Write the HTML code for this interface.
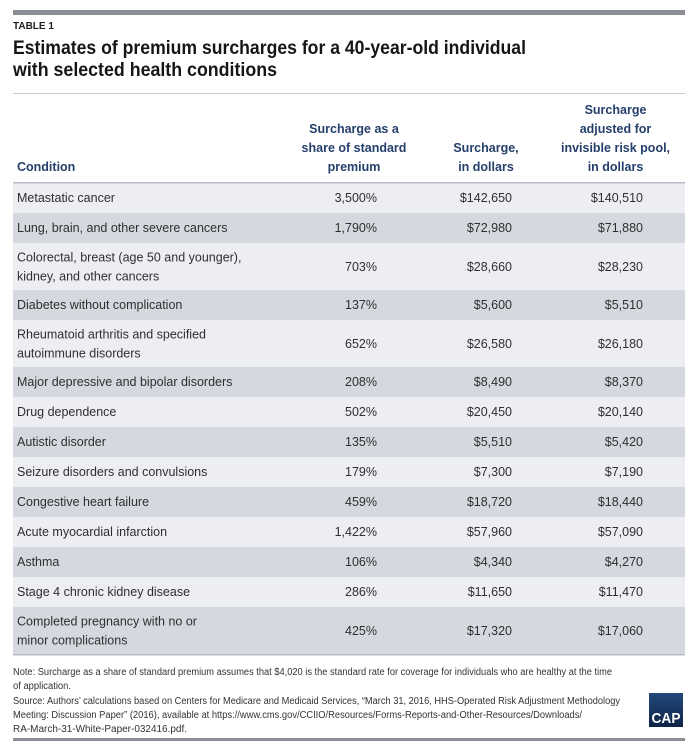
<!DOCTYPE html>
<html>
<head>
<meta charset="utf-8">
<style>
html,body{margin:0;padding:0;background:#fff;}
svg{display:block;}
.b{font-family:"Liberation Sans",Arial,sans-serif;font-size:12.5px;fill:#2f2f2f;}
.h{font-family:"Liberation Sans",Arial,sans-serif;font-size:12.5px;font-weight:bold;fill:#243f6b;}
.f{font-family:"Liberation Sans",Arial,sans-serif;font-size:10px;fill:#333;}
</style>
</head>
<body>
<svg width="693" height="747" viewBox="0 0 693 747" xmlns="http://www.w3.org/2000/svg">
<rect x="0" y="0" width="693" height="747" fill="#fff"/>
<!-- top bar -->
<rect x="13" y="10" width="672" height="5" fill="#8b8e95"/>
<text x="13" y="29" font-family="Liberation Sans, Arial, sans-serif" font-size="10" font-weight="bold" fill="#222">TABLE 1</text>
<text x="13" y="54" font-family="Liberation Sans, Arial, sans-serif" font-size="19" font-weight="bold" fill="#161616" textLength="513" lengthAdjust="spacingAndGlyphs">Estimates of premium surcharges for a 40-year-old individual</text>
<text x="13" y="76" font-family="Liberation Sans, Arial, sans-serif" font-size="19" font-weight="bold" fill="#161616" textLength="264" lengthAdjust="spacingAndGlyphs">with selected health conditions</text>
<rect x="13" y="93" width="672" height="1" fill="#c5c9d1"/>

<!-- header -->
<text class="h" x="17" y="171">Condition</text>
<text class="h" x="354" y="133" text-anchor="middle">Surcharge as a</text>
<text class="h" x="354" y="152" text-anchor="middle">share of standard</text>
<text class="h" x="354" y="171" text-anchor="middle">premium</text>
<text class="h" x="486" y="152" text-anchor="middle">Surcharge,</text>
<text class="h" x="486" y="171" text-anchor="middle">in dollars</text>
<text class="h" x="615.5" y="114" text-anchor="middle">Surcharge</text>
<text class="h" x="615.5" y="133" text-anchor="middle">adjusted for</text>
<text class="h" x="615.5" y="152" text-anchor="middle">invisible risk pool,</text>
<text class="h" x="615.5" y="171" text-anchor="middle">in dollars</text>

<!-- rows backgrounds -->
<rect x="13" y="183" width="672" height="30" fill="#eceef2"/>
<rect x="13" y="213" width="672" height="30" fill="#d5d8df"/>
<rect x="13" y="243" width="672" height="47" fill="#eceef2"/>
<rect x="13" y="290" width="672" height="30" fill="#d5d8df"/>
<rect x="13" y="320" width="672" height="47" fill="#eceef2"/>
<rect x="13" y="367" width="672" height="30" fill="#d5d8df"/>
<rect x="13" y="397" width="672" height="30" fill="#eceef2"/>
<rect x="13" y="427" width="672" height="30" fill="#d5d8df"/>
<rect x="13" y="457" width="672" height="30" fill="#eceef2"/>
<rect x="13" y="487" width="672" height="30" fill="#d5d8df"/>
<rect x="13" y="517" width="672" height="30" fill="#eceef2"/>
<rect x="13" y="547" width="672" height="30" fill="#d5d8df"/>
<rect x="13" y="577" width="672" height="30" fill="#eceef2"/>
<rect x="13" y="607" width="672" height="47" fill="#d5d8df"/>
<rect x="13" y="182" width="672" height="1.5" fill="#b6bcc8"/>
<rect x="13" y="654" width="672" height="1.5" fill="#b6bcc8"/>

<!-- row 1 -->
<text class="b" x="17" y="202">Metastatic cancer</text>
<text class="b" x="377" y="202" text-anchor="end">3,500%</text>
<text class="b" x="512" y="202" text-anchor="end">$142,650</text>
<text class="b" x="643" y="202" text-anchor="end">$140,510</text>
<!-- row 2 -->
<text class="b" x="17" y="232">Lung, brain, and other severe cancers</text>
<text class="b" x="377" y="232" text-anchor="end">1,790%</text>
<text class="b" x="512" y="232" text-anchor="end">$72,980</text>
<text class="b" x="643" y="232" text-anchor="end">$71,880</text>
<!-- row 3 -->
<text class="b" x="17" y="261.5">Colorectal, breast (age 50 and younger),</text>
<text class="b" x="17" y="280.5">kidney, and other cancers</text>
<text class="b" x="377" y="271" text-anchor="end">703%</text>
<text class="b" x="512" y="271" text-anchor="end">$28,660</text>
<text class="b" x="643" y="271" text-anchor="end">$28,230</text>
<!-- row 4 -->
<text class="b" x="17" y="309">Diabetes without complication</text>
<text class="b" x="377" y="309" text-anchor="end">137%</text>
<text class="b" x="512" y="309" text-anchor="end">$5,600</text>
<text class="b" x="643" y="309" text-anchor="end">$5,510</text>
<!-- row 5 -->
<text class="b" x="17" y="338.5">Rheumatoid arthritis and specified</text>
<text class="b" x="17" y="357.5">autoimmune disorders</text>
<text class="b" x="377" y="348" text-anchor="end">652%</text>
<text class="b" x="512" y="348" text-anchor="end">$26,580</text>
<text class="b" x="643" y="348" text-anchor="end">$26,180</text>
<!-- row 6 -->
<text class="b" x="17" y="386">Major depressive and bipolar disorders</text>
<text class="b" x="377" y="386" text-anchor="end">208%</text>
<text class="b" x="512" y="386" text-anchor="end">$8,490</text>
<text class="b" x="643" y="386" text-anchor="end">$8,370</text>
<!-- row 7 -->
<text class="b" x="17" y="416">Drug dependence</text>
<text class="b" x="377" y="416" text-anchor="end">502%</text>
<text class="b" x="512" y="416" text-anchor="end">$20,450</text>
<text class="b" x="643" y="416" text-anchor="end">$20,140</text>
<!-- row 8 -->
<text class="b" x="17" y="446">Autistic disorder</text>
<text class="b" x="377" y="446" text-anchor="end">135%</text>
<text class="b" x="512" y="446" text-anchor="end">$5,510</text>
<text class="b" x="643" y="446" text-anchor="end">$5,420</text>
<!-- row 9 -->
<text class="b" x="17" y="476">Seizure disorders and convulsions</text>
<text class="b" x="377" y="476" text-anchor="end">179%</text>
<text class="b" x="512" y="476" text-anchor="end">$7,300</text>
<text class="b" x="643" y="476" text-anchor="end">$7,190</text>
<!-- row 10 -->
<text class="b" x="17" y="506">Congestive heart failure</text>
<text class="b" x="377" y="506" text-anchor="end">459%</text>
<text class="b" x="512" y="506" text-anchor="end">$18,720</text>
<text class="b" x="643" y="506" text-anchor="end">$18,440</text>
<!-- row 11 -->
<text class="b" x="17" y="536">Acute myocardial infarction</text>
<text class="b" x="377" y="536" text-anchor="end">1,422%</text>
<text class="b" x="512" y="536" text-anchor="end">$57,960</text>
<text class="b" x="643" y="536" text-anchor="end">$57,090</text>
<!-- row 12 -->
<text class="b" x="17" y="566">Asthma</text>
<text class="b" x="377" y="566" text-anchor="end">106%</text>
<text class="b" x="512" y="566" text-anchor="end">$4,340</text>
<text class="b" x="643" y="566" text-anchor="end">$4,270</text>
<!-- row 13 -->
<text class="b" x="17" y="596">Stage 4 chronic kidney disease</text>
<text class="b" x="377" y="596" text-anchor="end">286%</text>
<text class="b" x="512" y="596" text-anchor="end">$11,650</text>
<text class="b" x="643" y="596" text-anchor="end">$11,470</text>
<!-- row 14 -->
<text class="b" x="17" y="625.5">Completed pregnancy with no or</text>
<text class="b" x="17" y="644.5">minor complications</text>
<text class="b" x="377" y="635" text-anchor="end">425%</text>
<text class="b" x="512" y="635" text-anchor="end">$17,320</text>
<text class="b" x="643" y="635" text-anchor="end">$17,060</text>

<!-- footer -->
<text class="f" x="13" y="675" textLength="599" lengthAdjust="spacingAndGlyphs">Note: Surcharge as a share of standard premium assumes that $4,020 is the standard rate for coverage for individuals who are healthy at the time</text>
<text class="f" x="13" y="689" textLength="58" lengthAdjust="spacingAndGlyphs">of application.</text>
<text class="f" x="13" y="704" textLength="607" lengthAdjust="spacingAndGlyphs">Source: Authors’ calculations based on Centers for Medicare and Medicaid Services, “March 31, 2016, HHS-Operated Risk Adjustment Methodology</text>
<text class="f" x="13" y="718" textLength="569" lengthAdjust="spacingAndGlyphs">Meeting: Discussion Paper” (2016), available at https://www.cms.gov/CCIIO/Resources/Forms-Reports-and-Other-Resources/Downloads/</text>
<text class="f" x="13" y="732" textLength="174" lengthAdjust="spacingAndGlyphs">RA-March-31-White-Paper-032416.pdf.</text>

<!-- CAP logo -->
<defs>
<linearGradient id="cg" x1="0" y1="0" x2="0" y2="1">
<stop offset="0" stop-color="#24497c"/>
<stop offset="1" stop-color="#0e2446"/>
</linearGradient>
</defs>
<rect x="649" y="693" width="34" height="34" fill="url(#cg)"/>
<text x="666" y="723" text-anchor="middle" font-family="Liberation Sans, Arial, sans-serif" font-size="15" font-weight="bold" fill="#fff" textLength="29" lengthAdjust="spacingAndGlyphs">CAP</text>

<!-- bottom bar -->
<rect x="13" y="738" width="672" height="3" fill="#8b8e95"/>
</svg>
</body>
</html>
